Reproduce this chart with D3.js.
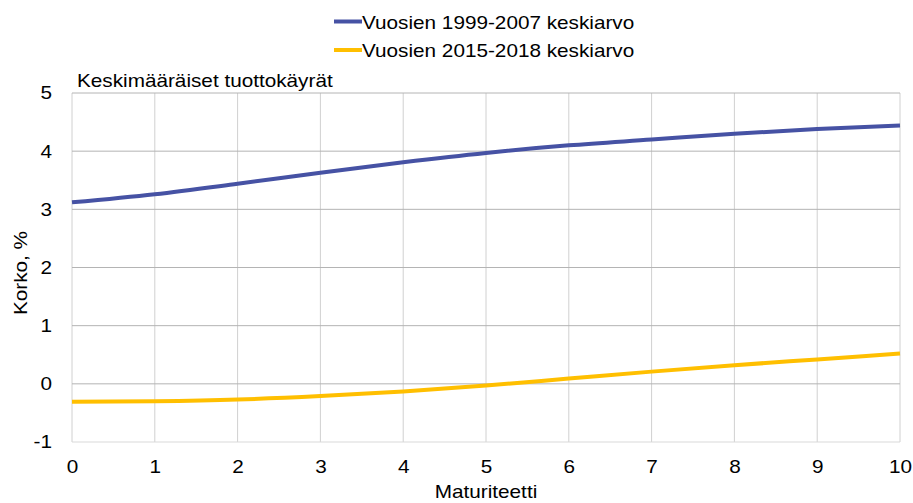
<!DOCTYPE html>
<html>
<head>
<meta charset="utf-8">
<script src="https://cdn.jsdelivr.net/npm/d3@7"></script>
<style>
  body { margin: 0; background: #fff; }
  text { font-family: "Liberation Sans", Arial, sans-serif; fill: #000; }
</style>
</head>
<body>
<div id="chart"></div>
<script>
const maturities = [0, 1, 2, 3, 4, 5, 6, 7, 8, 9, 10];
const avg1999_2007 = [3.12, 3.26, 3.44, 3.63, 3.81, 3.97, 4.10, 4.20, 4.30, 4.38, 4.44];
const avg2015_2018 = [-0.31, -0.30, -0.27, -0.21, -0.13, -0.03, 0.09, 0.21, 0.32, 0.42, 0.52];
const seriesNames = ["Vuosien 1999-2007 keskiarvo", "Vuosien 2015-2018 keskiarvo"];
const yTicks = [-1, 0, 1, 2, 3, 4, 5];

const width = 913;
const height = 503;
const margin = { top: 93, right: 13, bottom: 61, left: 72 };
const colors = ["#4652a4", "#ffbf00"];
const fontSize = "18.5px";

const svg = d3.select("#chart")
    .append("svg")
    .attr("width", width)
    .attr("height", height);

const x = d3.scaleLinear()
    .domain([0, 10])
    .range([margin.left, width - margin.right]);

const y = d3.scaleLinear()
    .domain([-1, 5])
    .range([height - margin.bottom, margin.top]);

// Grid
svg.append("g")
    .selectAll("line")
    .data(maturities)
    .enter()
    .append("line")
    .attr("x1", d => x(d))
    .attr("x2", d => x(d))
    .attr("y1", y(5))
    .attr("y2", y(-1))
    .attr("stroke", "#d0d0d0")
    .attr("stroke-width", 1);

svg.append("g")
    .selectAll("line")
    .data(yTicks)
    .enter()
    .append("line")
    .attr("x1", x(0))
    .attr("x2", x(10))
    .attr("y1", d => y(d))
    .attr("y2", d => y(d))
    .attr("stroke", d => d === -1 ? "#d9d9d9" : "#b4b4b4")
    .attr("stroke-width", 1);

// Axes (labels only)
const xAxis = svg.append("g")
    .attr("transform", `translate(0,${y(-1)})`)
    .call(d3.axisBottom(x).tickValues(maturities).tickSize(0).tickPadding(18).tickFormat(d => String(d)));
xAxis.select(".domain").remove();
xAxis.selectAll("text").style("font-size", fontSize).attr("font-family", null);

const yAxis = svg.append("g")
    .attr("transform", `translate(${x(0)},0)`)
    .call(d3.axisLeft(y).tickValues(yTicks).tickSize(0).tickPadding(20).tickFormat(d => String(d)));
yAxis.select(".domain").remove();
yAxis.selectAll("text").style("font-size", fontSize).attr("font-family", null);

// Lines
const line = d3.line()
    .x((d, i) => x(maturities[i]))
    .y(d => y(d))
    .curve(d3.curveMonotoneX);

[avg1999_2007, avg2015_2018].forEach((s, i) => {
    svg.append("path")
        .datum(s)
        .attr("fill", "none")
        .attr("stroke", colors[i])
        .attr("stroke-width", 4)
        .attr("d", line);
});

// Title
svg.append("text")
    .attr("x", 77)
    .attr("y", 87)
    .style("font-size", fontSize)
    .text("Keskimääräiset tuottokäyrät");

// Axis titles
svg.append("text")
    .attr("transform", "translate(27,273) rotate(-90)")
    .attr("text-anchor", "middle")
    .style("font-size", fontSize)
    .text("Korko, %");

svg.append("text")
    .attr("x", (x(0) + x(10)) / 2)
    .attr("y", 498)
    .attr("text-anchor", "middle")
    .style("font-size", fontSize)
    .text("Maturiteetti");

// Legend
const legend = svg.append("g");
seriesNames.forEach((name, i) => {
    const ly = 21.5 + i * 28.5;
    legend.append("line")
        .attr("x1", 334)
        .attr("x2", 362)
        .attr("y1", ly)
        .attr("y2", ly)
        .attr("stroke", colors[i])
        .attr("stroke-width", 4);
    legend.append("text")
        .attr("x", 362)
        .attr("y", ly + 7)
        .style("font-size", fontSize)
        .text(name);
});

// Reference text is a little wider than Liberation Sans at this height
svg.selectAll("text").each(function() {
    const w = this.getComputedTextLength();
    d3.select(this)
        .attr("textLength", w * 1.12)
        .attr("lengthAdjust", "spacingAndGlyphs");
});
</script>
</body>
</html>
